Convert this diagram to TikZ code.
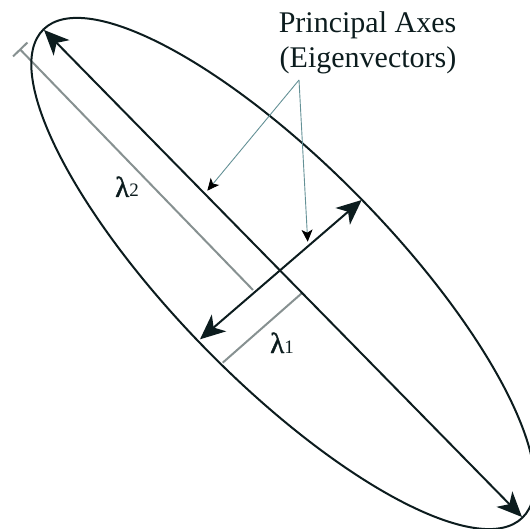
\documentclass[tikz,border=0pt]{standalone}
\usepackage{fontspec}
\setmainfont{Liberation Serif}
\newfontfamily\lamfont[FakeBold=1.3]{Liberation Serif}
\usetikzlibrary{arrows.meta}
\definecolor{ink}{RGB}{12,28,30}
\definecolor{dimgray}{RGB}{135,145,145}
\definecolor{pointer}{RGB}{100,145,150}
\tikzset{
  axisline/.style={draw=ink, line width=2pt, {Stealth[length=25pt,width=22pt,inset=7pt]}-{Stealth[length=25pt,width=22pt,inset=7pt]}},
  dimline/.style={draw=dimgray, line width=2pt},
  pointerline/.style={draw=pointer, line width=0.9pt, -{Stealth[length=12pt,width=11pt,inset=3pt,color=black]}},
  lbl/.style={inner sep=0pt, font=\fontsize{30}{35}\selectfont, text=ink},
  lam/.style={inner sep=0pt, text=ink}
}
\begin{document}
\begin{tikzpicture}[x=1pt,y=1pt]
\useasboundingbox (0,0) rectangle (530,-529);
\clip (0,0) rectangle (530,-529);
% key points (pixel coordinates, y downward => negative)
\coordinate (C) at (283,-273.5);
\coordinate (majA) at (44,-30);
\coordinate (majB) at (522,-517);
\coordinate (minA) at (361.7,-200);
\coordinate (minB) at (200,-339.3);
\coordinate (l2s) at (19.5,-48.8);
\coordinate (l2e) at (253,-290);
\coordinate (l1s) at (301.7,-293.3);
\coordinate (l1e) at (222.7,-362.7);
\coordinate (P) at (299,-80);
\coordinate (t1) at (207.3,-190.7);
\coordinate (t2) at (307.7,-241.7);
% gray dimension lines
\draw[dimline, {Bar[width=20pt]}-] (l2s) -- (l2e);
\draw[dimline] (l1s) -- (l1e);
% ellipse
\draw[draw=ink, line width=2pt, rotate around={-45.54:(C)}] (C) ellipse [x radius=342, y radius=108];
% principal axes
\draw[axisline] (majA) -- (majB);
\draw[axisline] (minB) -- (minA);
% pointers
\draw[pointerline] (P) -- (t1);
\draw[pointerline] (P) -- (t2);
% labels
\node[lbl, anchor=base] (title1) at (367.5,-33) {Principal Axes};
\node[lbl, anchor=base] (title2) at (368,-68) {(Eigenvectors)};
\node[lam, anchor=base west] (lam2) at (115,-197) {{\lamfont\fontsize{29}{29}\selectfont λ}{\fontsize{19}{19}\selectfont 2}};
\node[lam, anchor=base west] (lam1) at (270,-353) {{\lamfont\fontsize{29}{29}\selectfont λ}{\fontsize{19}{19}\selectfont 1}};
\end{tikzpicture}
\end{document}
